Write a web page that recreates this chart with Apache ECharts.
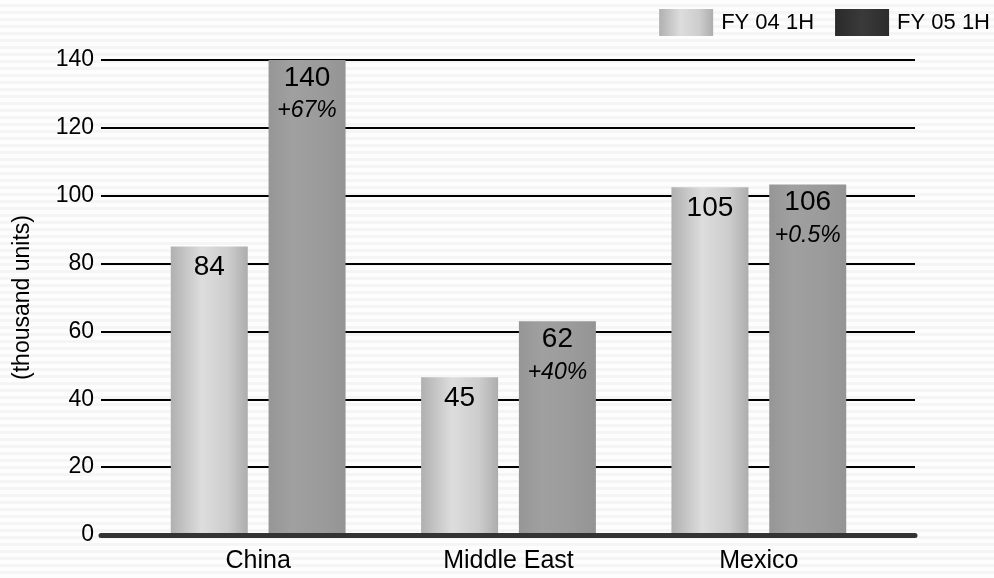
<!DOCTYPE html>
<html>
<head>
<meta charset="utf-8">
<script src="https://cdn.jsdelivr.net/npm/echarts@6/dist/echarts.min.js"></script>
<style>
html,body{margin:0;padding:0;}
#c{width:994px;height:578px;background:repeating-linear-gradient(to bottom,#fdfdfd 0px,#fdfdfd 4px,#f5f5f5 4px,#f5f5f5 7px);}
</style>
</head>
<body>
<div id="c"></div>
<script>
const categories = ['China', 'Middle East', 'Mexico'];
const seriesNames = ['FY 04 1H', 'FY 05 1H'];
// bar heights as drawn in the picture (thousand units)
const fy04Values = [85, 46.5, 102.5];
const fy05Values = [140, 63, 103.3];
// printed labels
const fy04Labels = ['84', '45', '105'];
const fy05Labels = ['140', '62', '106'];
const growthLabels = ['+67%', '+40%', '+0.5%'];
const yTicks = [0, 20, 40, 60, 80, 100, 120, 140];

const FONT = 'Liberation Sans, Arial, sans-serif';

const lightGrad = {
  type: 'linear', x: 0, y: 0, x2: 1, y2: 0,
  colorStops: [
    {offset: 0, color: '#b0b0b0'},
    {offset: 0.4, color: '#dddddd'},
    {offset: 0.75, color: '#cdcdcd'},
    {offset: 1, color: '#adadad'}
  ]
};
const midGrad = {
  type: 'linear', x: 0, y: 0, x2: 1, y2: 0,
  colorStops: [
    {offset: 0, color: '#969696'},
    {offset: 0.3, color: '#a0a0a0'},
    {offset: 0.7, color: '#9b9b9b'},
    {offset: 1, color: '#949494'}
  ]
};
const darkGrad = {
  type: 'linear', x: 0, y: 0, x2: 1, y2: 0,
  colorStops: [
    {offset: 0, color: '#2a2a2a'},
    {offset: 0.5, color: '#3a3a3a'},
    {offset: 1, color: '#2c2c2c'}
  ]
};

const chart = echarts.init(document.getElementById('c'), null, {renderer: 'canvas'});
chart.setOption({
  backgroundColor: 'transparent',
  animation: false,
  textStyle: {fontFamily: FONT},
  legend: {
    right: 4, top: 9, padding: 0,
    itemWidth: 54, itemHeight: 27, itemGap: 21,
    icon: 'rect',
    textStyle: {fontSize: 22, color: '#000', fontFamily: FONT, padding: [0, 0, 0, 3]},
    data: [
      {name: seriesNames[0], itemStyle: {color: lightGrad}},
      {name: seriesNames[1], itemStyle: {color: darkGrad}}
    ]
  },
  grid: [
    {left: 101, right: 79, top: 60, bottom: 43},
    {left: 133, right: 110, top: 60, bottom: 43}
  ],
  xAxis: [
    {
      gridIndex: 0, type: 'value', min: 0, max: 1, z: 10,
      axisLine: {show: true, onZero: false, lineStyle: {color: '#333', width: 5}},
      axisTick: {show: false}, axisLabel: {show: false}, splitLine: {show: false}
    },
    {
      gridIndex: 1, type: 'category', data: categories,
      axisLine: {show: false}, axisTick: {show: false}, splitLine: {show: false},
      axisLabel: {fontSize: 25, color: '#000', margin: 14, fontFamily: FONT}
    }
  ],
  yAxis: [
    {
      gridIndex: 0, type: 'value', min: 0, max: 140, interval: 20,
      axisLine: {show: false}, axisTick: {show: false},
      axisLabel: {fontSize: 23, color: '#000', margin: 7, fontFamily: FONT},
      splitLine: {show: true, lineStyle: {color: '#000', width: 2}},
      name: '(thousand units)', nameLocation: 'middle', nameGap: 67, nameRotate: 90,
      nameTextStyle: {fontSize: 23, color: '#000', fontFamily: FONT}
    },
    {
      gridIndex: 1, type: 'value', min: 0, max: 140, interval: 20, show: false,
      splitLine: {show: false}
    }
  ],
  series: [
    {
      name: seriesNames[0], type: 'bar', xAxisIndex: 1, yAxisIndex: 1,
      data: fy04Values, barWidth: 77, barGap: '27%',
      itemStyle: {color: lightGrad},
      label: {
        show: true, position: 'insideTop', distance: 4,
        formatter: p => '{v|' + fy04Labels[p.dataIndex] + '}',
        rich: {v: {fontSize: 28, lineHeight: 34, color: '#000', fontFamily: FONT}}
      }
    },
    {
      name: seriesNames[1], type: 'bar', xAxisIndex: 1, yAxisIndex: 1,
      data: fy05Values, barWidth: 77, barGap: '27%',
      itemStyle: {color: midGrad},
      label: {
        show: true, position: 'insideTop', distance: 1,
        formatter: p => '{v|' + fy05Labels[p.dataIndex] + '}\n{p|' + growthLabels[p.dataIndex] + '}',
        rich: {
          v: {fontSize: 28, lineHeight: 34, color: '#000', fontFamily: FONT},
          p: {fontSize: 23, lineHeight: 32, color: '#000', fontStyle: 'italic', fontFamily: FONT}
        }
      }
    }
  ]
});
</script>
</body>
</html>
